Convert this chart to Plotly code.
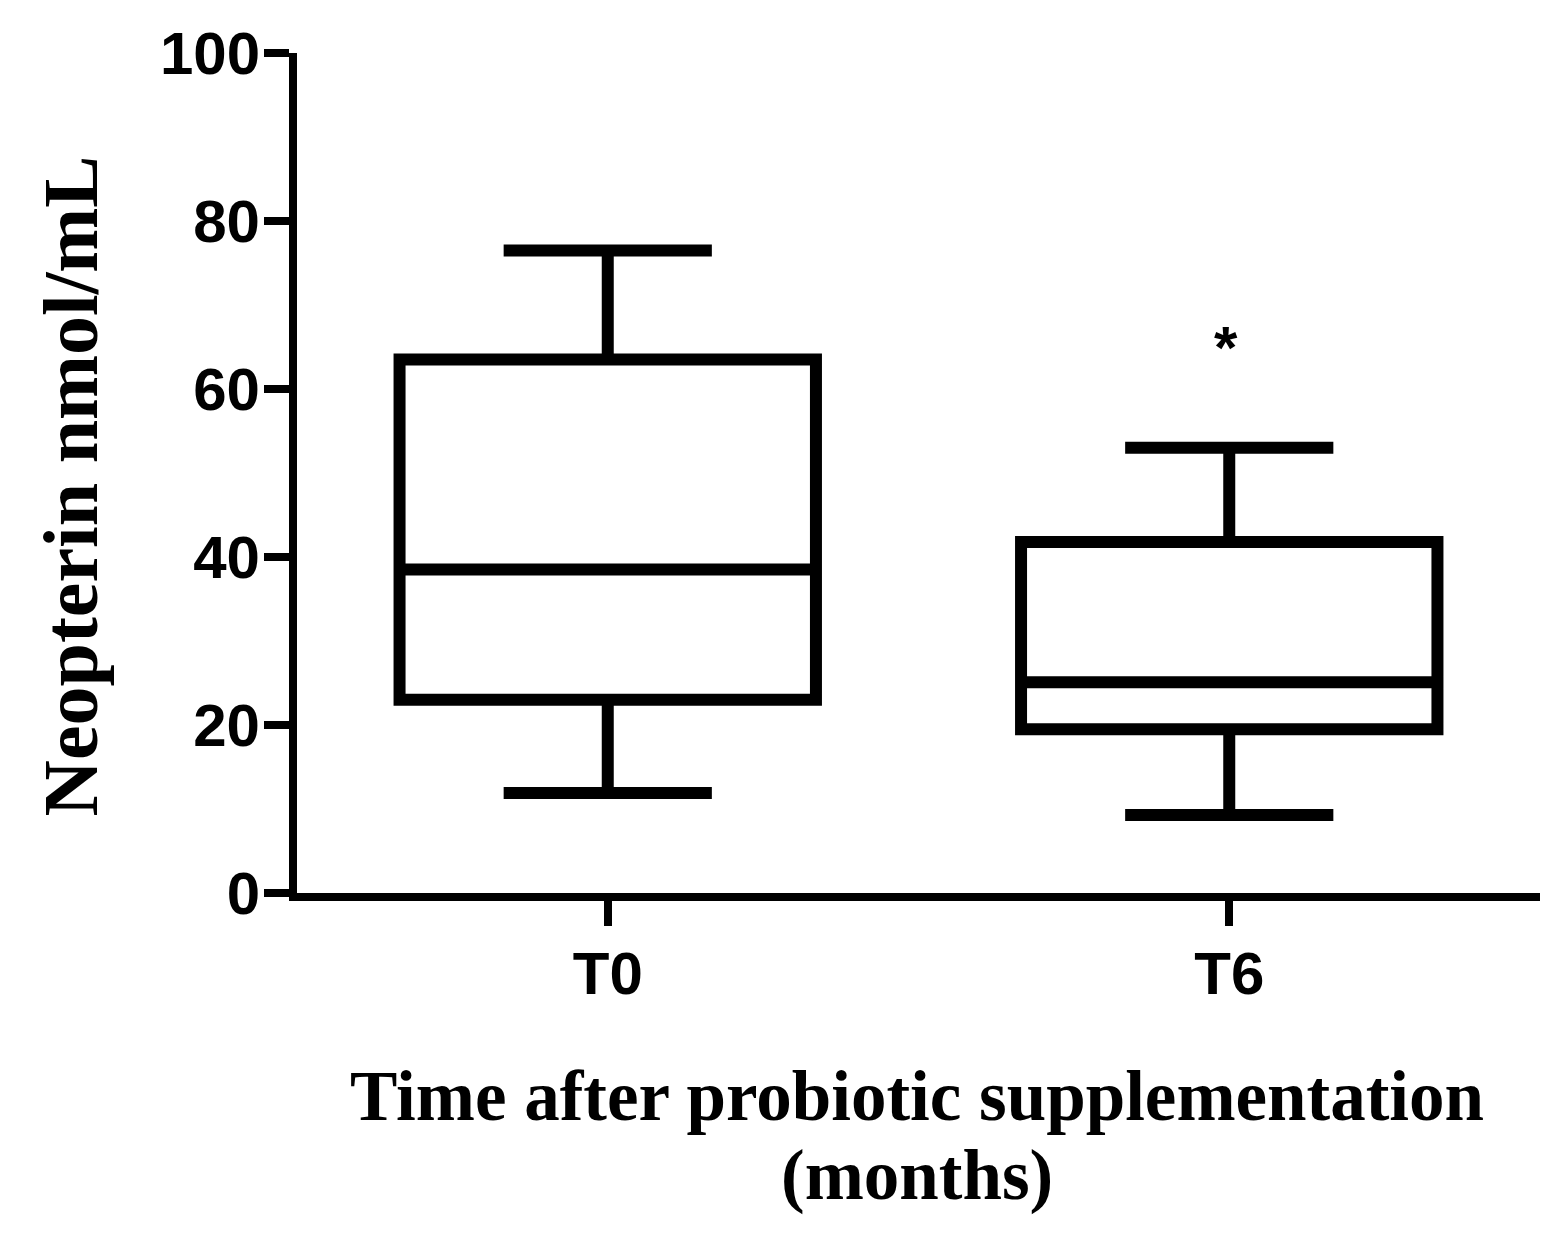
import plotly.graph_objects as go

# Data
groups = ["T0", "T6"]
lower_whisker = [11.9, 9.3]
q1_vals = [23.0, 19.5]
median_vals = [38.5, 25.1]
q3_vals = [63.5, 41.8]
upper_whisker = [76.5, 53.0]
y_ticks = [0, 20, 40, 60, 80, 100]
star_group = "T6"
star_y = 65.5

# page has an 8px body margin; work in page coordinates
OFF = 8
W, H = 1555 - OFF, 1239 - OFF
ML, MR, MT, MB = 297 - OFF, 15, 50 - OFF, 1239 - 893
plot_h = H - MT - MB
plot_w = W - ML - MR

fig = go.Figure()
for i, g in enumerate(groups):
    fig.add_trace(go.Box(
        x=[g],
        q1=[q1_vals[i]], median=[median_vals[i]], q3=[q3_vals[i]],
        lowerfence=[lower_whisker[i]], upperfence=[upper_whisker[i]],
        boxpoints=False,
        width=0.67,
        whiskerwidth=0.5,
        line=dict(color="black", width=12),
        fillcolor="white",
        showlegend=False,
        hoverinfo="skip",
    ))

tick_font = dict(family="Liberation Sans, Arial, sans-serif", size=60, color="black", weight="bold")
title_font = dict(family="Liberation Serif, Times New Roman, serif", size=71, color="black", weight="bold")

fig.update_layout(
    width=W, height=H,
    margin=dict(l=ML, r=MR, t=MT, b=MB),
    paper_bgcolor="white", plot_bgcolor="white",
    xaxis=dict(
        type="category", categoryorder="array", categoryarray=groups,
        range=[-0.5, 1.5],
        showline=True, linecolor="black", linewidth=8,
        ticks="outside", ticklen=25, tickwidth=8, tickcolor="black",
        showgrid=False, zeroline=False,
        tickfont=tick_font, ticklabelstandoff=-4,
    ),
    yaxis=dict(
        range=[0, 100], tickvals=y_ticks, ticktext=[str(v) for v in y_ticks],
        showline=True, linecolor="black", linewidth=8,
        ticks="outside", ticklen=25, tickwidth=8, tickcolor="black",
        showgrid=False, zeroline=False,
        tickfont=tick_font, ticklabelstandoff=-8,
    ),
)

def py(ypage):
    return (H - MB - (ypage - OFF)) / plot_h

def px(xpage):
    return ((xpage - OFF) - ML) / plot_w

fig.add_annotation(
    text="Neopterin nmol/mL", textangle=-90,
    xref="paper", yref="paper",
    x=px(70), y=py(485),
    xanchor="center", yanchor="middle", showarrow=False,
    font=dict(family="Liberation Serif, Times New Roman, serif", size=78, color="black", weight="bold"),
)
fig.add_annotation(
    text="Time after probiotic supplementation",
    xref="paper", yref="paper", x=px(917), y=py(1097),
    xanchor="center", yanchor="middle", showarrow=False, font=title_font,
)
fig.add_annotation(
    text="(months)",
    xref="paper", yref="paper", x=px(917), y=py(1177),
    xanchor="center", yanchor="middle", showarrow=False, font=title_font,
)
fig.add_annotation(
    text="*", x=star_group, y=star_y, xref="x", yref="y",
    xanchor="center", yanchor="middle", showarrow=False, yshift=-5, xshift=-3,
    font=dict(family="Liberation Sans, Arial, sans-serif", size=60, color="black", weight="bold"),
)

fig.write_html("out.html")
